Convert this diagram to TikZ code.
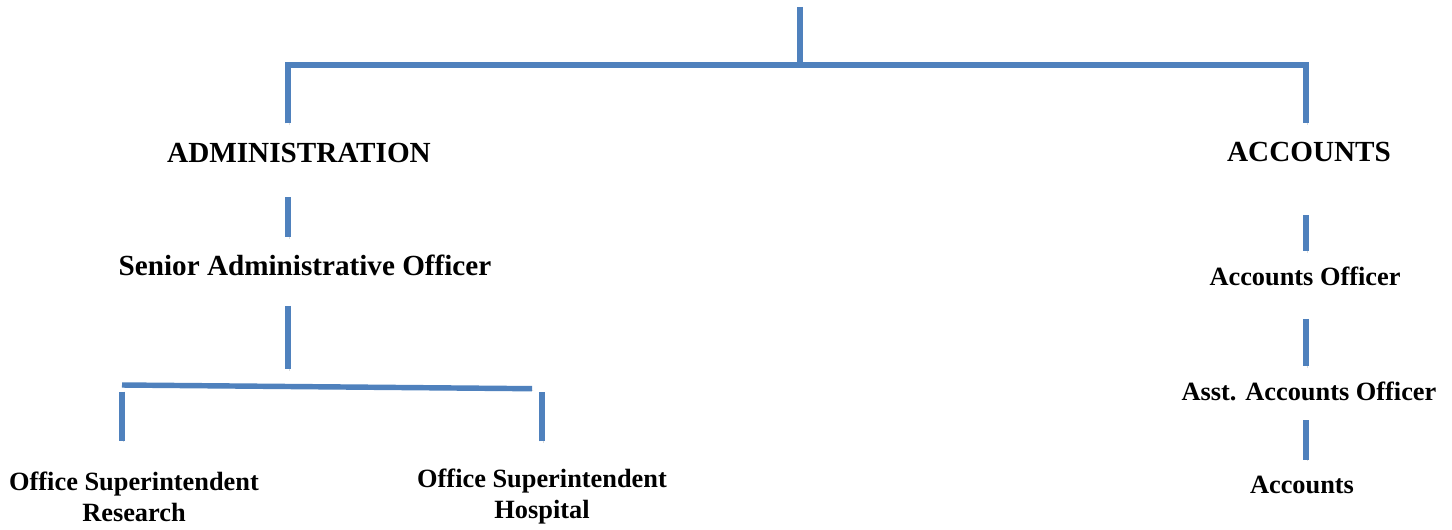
\documentclass[tikz,border=0pt]{standalone}
\usepackage{fontspec}
\setmainfont{Liberation Serif}
\usetikzlibrary{positioning}
\definecolor{linkblue}{HTML}{4F81BD}

\begin{document}
\begin{tikzpicture}[
  x=0.02cm, y=-0.02cm,
  head/.style = {font=\fontsize{16.6}{19}\selectfont\bfseries, inner sep=0pt},
  post/.style = {font=\fontsize{15}{17.4}\selectfont\bfseries, inner sep=0pt, align=center},
  link/.style = {draw=linkblue, line width=3.1pt, line join=miter,
                 preaction={draw=black!14, transform canvas={shift={(0.6pt,-1pt)}}}},
]
\useasboundingbox (0,0) rectangle (1452,530);

%% ---------------------------------------------------------------- top
\coordinate (root) at (800,7);
\coordinate (hub)  at (800,65);
\coordinate (hubL) at (288,65);
\coordinate (hubR) at (1306,65);

\node[head] (adm) at (299,153.3) {ADMINISTRATION};
\node[head] (acc) at (1309,152.2) {ACCOUNTS};

\draw[link] (root) -- (hub);
\draw[link, shorten <=0.395cm, shorten >=0.373cm]
  (hubL |- adm.north) -- (hubL) -- (hubR) -- (hubR |- acc.north);

%% ---------------------------------------------------------------- administration
\node[head] (sao) at (305,265.5) {Senior Administrative Officer};
\coordinate (splitL) at (122,385);
\coordinate (splitR) at (532,388.7);

\node[post] (osr) at (134,497) {Office Superintendent\\Research};
\node[post] (osh) at (542,496.5) {Office Superintendent\\Hospital};

\draw[link, shorten <=0.677cm, shorten >=0.345cm] (hubL |- adm.south) -- (hubL |- sao.north);
\draw[link, shorten <=0.591cm, shorten >=0.314cm] (hubL |- sao.south) -- (hubL |- splitL);
\draw[link] (splitL) -- (splitR);
\draw[link, shorten <=0.134cm, shorten >=0.626cm] (splitL) -- (splitL |- osr.north);
\draw[link, shorten <=0.546cm, shorten >=0.072cm] (osh.north) -- (osh.north |- splitR);

%% ---------------------------------------------------------------- accounts
\node[post] (aco) at (1305,276.5) {Accounts Officer};
\node[post] (aao) at (1309,391) {Asst. Accounts Officer};
\node[post] (acs) at (1302,484.8) {Accounts};

\draw[link, shorten <=1.059cm, shorten >=0.314cm] (hubR |- acc.south) -- (hubR |- aco.north);
\draw[link, shorten <=0.652cm, shorten >=0.300cm] (hubR |- aco.south) -- (hubR |- aao.north);
\draw[link, shorten <=0.386cm, shorten >=0.320cm] (hubR |- aao.south) -- (hubR |- acs.north);
\end{tikzpicture}
\end{document}
